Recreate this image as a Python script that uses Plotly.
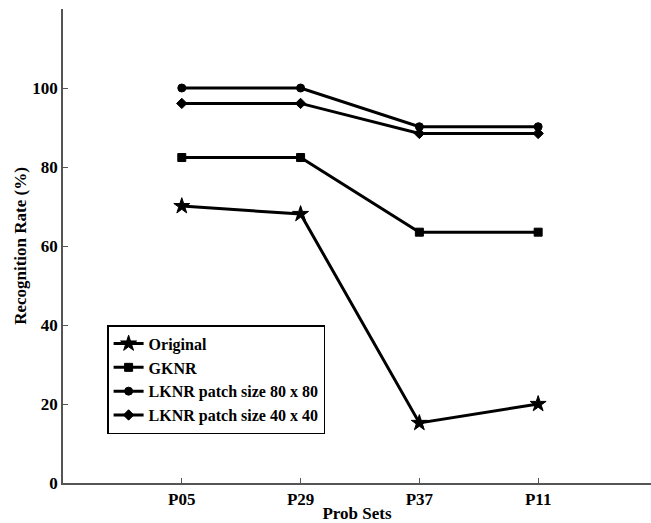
import plotly.graph_objects as go

categories = ["P05", "P29", "P37", "P11"]
original = [70.1, 68.1, 15.2, 20.0]
gknr = [82.4, 82.4, 63.5, 63.5]
lknr_80 = [100.0, 100.0, 90.2, 90.2]
lknr_40 = [96.1, 96.1, 88.5, 88.5]
y_ticks = [0, 20, 40, 60, 80, 100]

x_pos = [i + 1 for i in range(len(categories))]

series = [
    ("Original", original, "star"),
    ("GKNR", gknr, "square"),
    ("LKNR patch size 80 x 80", lknr_80, "circle"),
    ("LKNR patch size 40 x 40", lknr_40, "diamond"),
]

fig = go.Figure()
for name, vals, sym in series:
    fig.add_trace(go.Scatter(
        x=x_pos, y=vals, name=name, mode="lines+markers",
        line=dict(color="black", width=3),
        marker=dict(symbol=sym, size=12 if sym == "star" else 8, color="black",
                    line=dict(color="black", width=1)),
    ))

font = dict(family="Liberation Serif, Times New Roman, serif", size=17,
            color="black", weight="bold")
legend_font = dict(family="Liberation Serif, Times New Roman, serif", size=16,
                   color="black", weight="bold")

fig.update_layout(
    width=651, height=523,
    margin=dict(l=63, r=0, t=9, b=40),
    paper_bgcolor="white", plot_bgcolor="white",
    font=font,
    showlegend=True,
    legend=dict(
        x=0.075, y=0.333, xanchor="left", yanchor="top",
        bordercolor="black", borderwidth=1.5, bgcolor="white",
        font=legend_font, tracegroupgap=0,
    ),
    xaxis=dict(
        range=[0, 4.95], tickvals=x_pos, ticktext=categories,
        showline=True, linecolor="#555555", linewidth=1.5, mirror=False,
        ticks="inside", ticklen=5, tickcolor="#555555",
        showgrid=False, zeroline=False,
        title=dict(text="Prob Sets", font=font, standoff=0),
        tickfont=font,
    ),
    yaxis=dict(
        range=[0, 120], tickvals=y_ticks,
        showline=True, linecolor="#555555", linewidth=1.5, mirror=False,
        ticks="inside", ticklen=5, tickcolor="#555555",
        showgrid=False, zeroline=False,
        title=dict(text="Recognition Rate (%)", font=font, standoff=1),
        tickfont=font,
    ),
)

fig.write_html("out.html", config={"displayModeBar": False},
               post_script="document.body.style.margin='0';document.body.style.overflow='hidden';")
